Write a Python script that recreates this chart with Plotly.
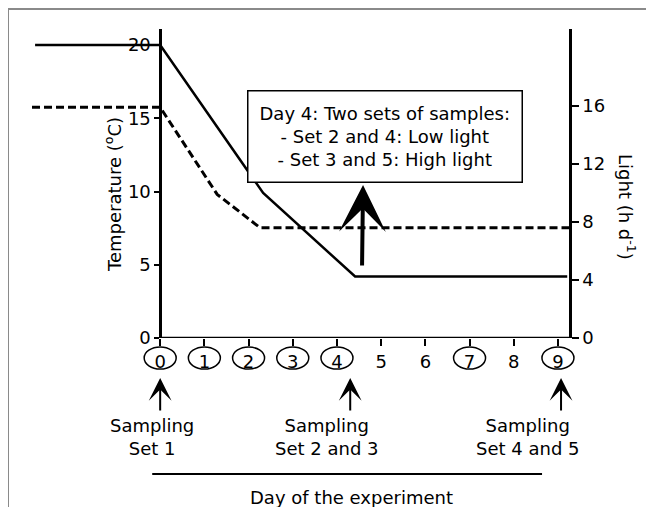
import plotly.graph_objects as go

# ---- data ----
temp_days = [-2.83, 0, 2.33, 4.41, 9.21]
temp_values = [20, 20, 9.9, 4.2, 4.2]
light_days = [-2.9, 0, 1.29, 2.26, 9.25]
light_values = [15.9, 15.9, 9.9, 7.6, 7.6]

day_ticks = [0, 1, 2, 3, 4, 5, 6, 7, 8, 9]
circled_days = [0, 1, 2, 3, 4, 7, 9]
temp_ticks = [0, 5, 10, 15, 20]
light_ticks = [0, 4, 8, 12, 16]

sampling_arrow_days = [0, 4.3, 9.07]
sampling_label_days = [-0.18, 3.78, 8.33]
sampling_labels = ["Sampling<br>Set 1", "Sampling<br>Set 2 and 3", "Sampling<br>Set 4 and 5"]

box_text = ("Day 4: Two sets of samples:<br>- Set 2 and 4: Low light"
            "<br>- Set 3 and 5: High light")

FONT = "DejaVu Sans"
OFF = 8  # page body margin
W, H = 654 - OFF, 507 - OFF
ML, MR, MT, MB = 32 - OFF, 85, 29 - OFF, 169
PW, PH = W - ML - MR, H - MT - MB
XR = [-2.9, 9.25]


def ypx(px):
    """paper y for a screen pixel row"""
    return (H - MB - (px - OFF)) / PH


def xpx(px):
    """paper x for a screen pixel column"""
    return (px - OFF - ML) / PW


def day_paper(d):
    """paper x for a day value on the x axis"""
    return (d - XR[0]) / (XR[1] - XR[0])


fig = go.Figure()
fig.add_trace(go.Scatter(x=temp_days, y=temp_values, mode="lines",
                         line=dict(color="black", width=2.5), yaxis="y",
                         showlegend=False, hoverinfo="skip"))
fig.add_trace(go.Scatter(x=light_days, y=light_values, mode="lines",
                         line=dict(color="black", width=3, dash="8px,4px"),
                         yaxis="y2", showlegend=False, hoverinfo="skip"))

shapes = []
# outer grey frame
shapes.append(dict(type="rect", xref="paper", yref="paper",
                   x0=xpx(8), x1=xpx(700), y0=ypx(560), y1=ypx(9),
                   line=dict(color="#8a8a8a", width=2), layer="below"))
# bottom axis line
shapes.append(dict(type="line", xref="x", yref="y", x0=0, x1=XR[1], y0=0, y1=0,
                   line=dict(color="black", width=2.5)))
# ellipses around tick labels
for d in circled_days:
    shapes.append(dict(type="circle", xref="paper", yref="paper",
                       xsizemode="pixel", ysizemode="pixel",
                       xanchor=day_paper(d), yanchor=ypx(358),
                       x0=-16, x1=16, y0=-11, y1=11,
                       line=dict(color="black", width=1.5)))
# horizontal line above the x title
shapes.append(dict(type="line", xref="x", yref="paper",
                   x0=sampling_label_days[0], x1=8.64, y0=ypx(474), y1=ypx(474),
                   line=dict(color="black", width=2)))

annotations = []
# text box
annotations.append(dict(x=5.09, y=13.76, xref="x", yref="y", text=box_text,
                        showarrow=False, font=dict(family=FONT, size=18, color="black"),
                        bordercolor="black", borderwidth=1.5, borderpad=11,
                        bgcolor="white", align="center",
                        xanchor="center", yanchor="middle"))
# big arrow
annotations.append(dict(x=4.59, y=10.45, xref="x", yref="y", text="",
                        showarrow=True, arrowhead=3, arrowsize=1.95, arrowwidth=4,
                        arrowcolor="black", ax=-1, ay=82))
# sampling arrows & labels
for d in sampling_arrow_days:
    annotations.append(dict(x=d, y=ypx(378), xref="x", yref="paper", text="",
                            showarrow=True, arrowhead=3, arrowsize=1.9, arrowwidth=2,
                            arrowcolor="black", ax=0, ay=34))
for d, t in zip(sampling_label_days, sampling_labels):
    annotations.append(dict(x=d, y=ypx(437), xref="x", yref="paper", text=t,
                            showarrow=False, xanchor="center", yanchor="middle",
                            align="center",
                            font=dict(family=FONT, size=18, color="black")))
# x title
annotations.append(dict(x=4.34, y=ypx(497), xref="x", yref="paper",
                        text="Day of the experiment", showarrow=False,
                        xanchor="center", yanchor="middle",
                        font=dict(family=FONT, size=18, color="black")))
# y titles
annotations.append(dict(x=xpx(113), y=ypx(195), xref="paper", yref="paper",
                        text="Temperature (<sup>o</sup>C)", textangle=-90,
                        xanchor="center", yanchor="middle",
                        showarrow=False, font=dict(family=FONT, size=18, color="black")))
annotations.append(dict(x=xpx(627), y=ypx(207), xref="paper", yref="paper",
                        text="Light (h d<sup>-1</sup>)", textangle=90,
                        xanchor="center", yanchor="middle",
                        showarrow=False, font=dict(family=FONT, size=18, color="black")))

fig.update_layout(
    width=W, height=H,
    margin=dict(l=ML, r=MR, t=MT, b=MB, pad=0),
    plot_bgcolor="white", paper_bgcolor="white",
    font=dict(family=FONT, size=18, color="black"),
    xaxis=dict(range=XR, tickvals=day_ticks, ticktext=[str(d) for d in day_ticks],
               ticks="outside", ticklen=7, tickwidth=1.5, tickcolor="black",
               showgrid=False, zeroline=False, showline=False,
               tickfont=dict(family=FONT, size=18)),
    yaxis=dict(range=[0, 21.1], tickvals=temp_ticks, anchor="free",
               position=day_paper(0), showline=True, linewidth=2.5, linecolor="black",
               ticks="outside", ticklen=5, tickwidth=1.5, tickcolor="black",
               showgrid=False, zeroline=False, tickfont=dict(family=FONT, size=18)),
    yaxis2=dict(range=[0, 21.3], tickvals=light_ticks, overlaying="y", side="right",
                anchor="x", showline=True, linewidth=2.5, linecolor="black",
                ticks="outside", ticklen=7, tickwidth=1.5, tickcolor="black",
                showgrid=False, zeroline=False, tickfont=dict(family=FONT, size=18)),
    shapes=shapes,
    annotations=annotations,
)

fig.write_html("out.html")
